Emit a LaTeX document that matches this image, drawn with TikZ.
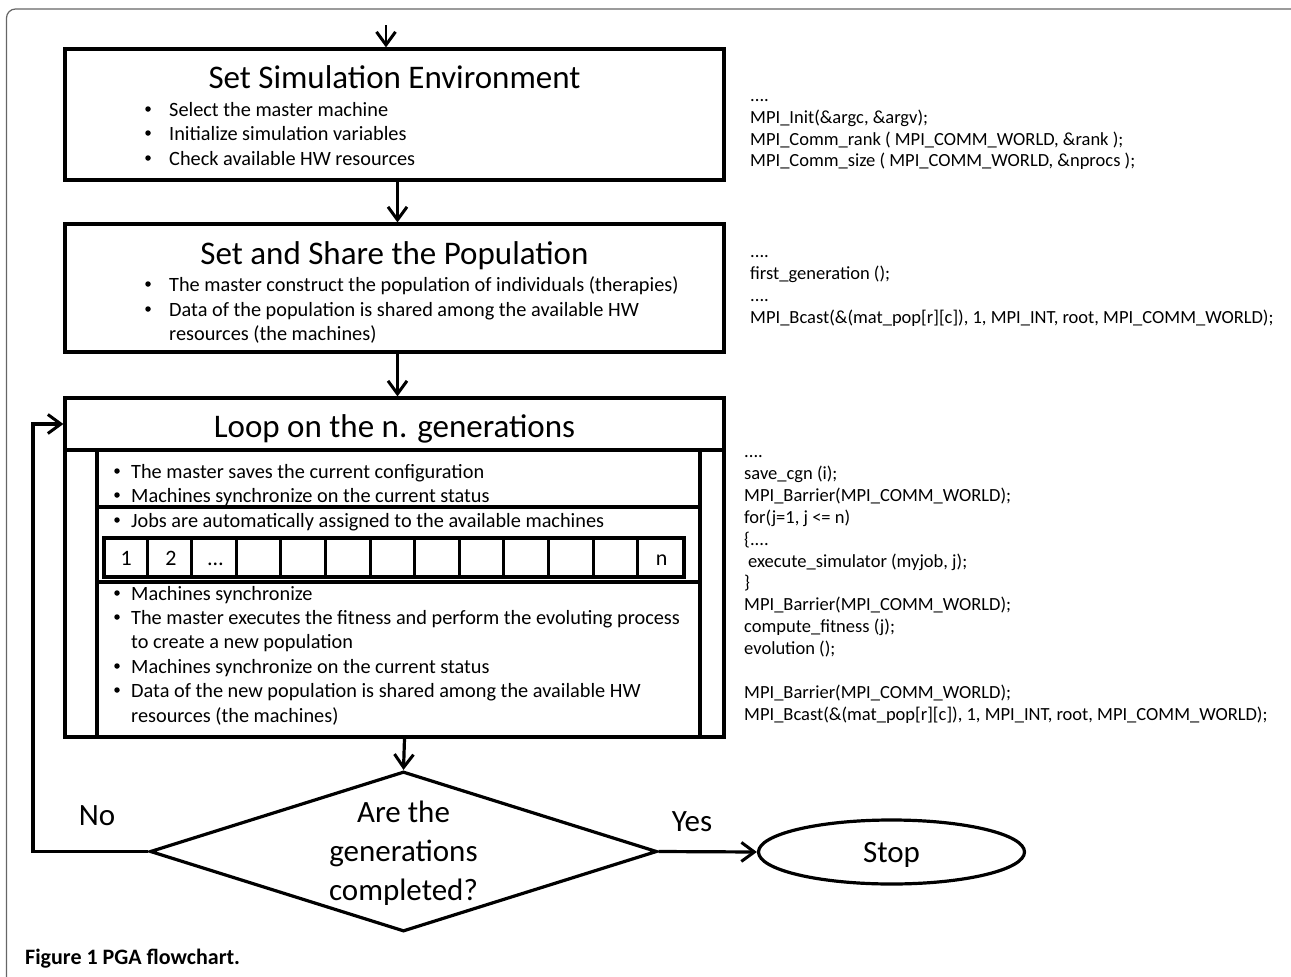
\documentclass[tikz,border=0pt]{standalone}
\usepackage{fontspec}
\setmainfont{Carlito}
\usetikzlibrary{arrows.meta,shapes.geometric}
\begin{document}
\begin{tikzpicture}[x=1pt,y=-1pt,
  box/.style={draw, line width=3.2pt, rectangle, inner sep=0pt},
  arr/.style={line width=3.2pt, -{Straight Barb[length=13pt,width=19pt,line width=3pt]}},
  conn/.style={line width=3.2pt},
  title/.style={anchor=base, inner sep=0pt, font=\fontsize{33}{38}\selectfont},
  bul/.style={anchor=base west, inner sep=0pt, font=\fontsize{20.3}{24}\selectfont},
  dot/.style={circle, fill, inner sep=0pt, minimum size=5.5pt},
  code/.style={anchor=base west, inner sep=0pt, font=\fontsize{18.5}{22}\selectfont},
  big/.style={inner sep=0pt, font=\fontsize{31}{36}\selectfont},
  cell/.style={anchor=base, inner sep=0pt, font=\fontsize{22}{26}\selectfont}]
\useasboundingbox (0,0) rectangle (1291,977);
% figure frame
\draw[black!60, line width=1.2pt, rounded corners=9pt] (6.5,995) -- (6.5,9) -- (1300,9);

% ---- box 1
\node[box, minimum width=659, minimum height=131] (env) at (394.5,114.5) {};
\coordinate (start) at (386,25);
\draw[arr, line width=2.4pt] (start) -- (start |- env.north);
\node[title] (envt) at (394.5,88) {Set Simulation Environment};
\node[dot] (d11) at (148,109) {};
\node[dot] (d12) at (148,133) {};
\node[dot] (d13) at (148,158) {};
\node[bul] (b11) at (169,116) {Select the master machine};
\node[bul] (b12) at (169,140) {Initialize simulation variables};
\node[bul] (b13) at (169,165) {Check available HW resources};

% ---- box 2
\node[box, minimum width=659, minimum height=128] (pop) at (394.5,288) {};
\draw[arr] ([xshift=3]env.south) -- ([xshift=3]pop.north);
\node[title] (popt) at (394.5,264) {Set and Share the Population};
\node[dot] (d21) at (148,284) {};
\node[dot] (d22) at (148,309) {};
\node[bul] (b21) at (169,291) {The master construct the population of individuals (therapies)};
\node[bul] (b22) at (169,316) {Data of the population is shared among the available HW};
\node[bul] (b23) at (169,340) {resources (the machines)};

% ---- loop box
\node[box, minimum width=659, minimum height=339] (loop) at (394.5,567.5) {};
\node[box, minimum width=659, minimum height=52] (looptitle) at (394.5,424) {};
\draw[arr] ([xshift=3]pop.south) -- ([xshift=3]looptitle.north);
\node[title] (loopt) at (394.5,437) {Loop on the n. generations};
\node[box, minimum width=603, minimum height=287] (inner) at (398.5,593.5) {};
\coordinate (d1) at (0,507);
\coordinate (d2) at (0,582);
\draw[conn] (inner.west |- d1) -- (inner.east |- d1);
\draw[conn] (inner.west |- d2) -- (inner.east |- d2);
\node[dot] (e1) at (117,471) {};
\node[dot] (e2) at (117,495) {};
\node[dot] (e3) at (117,520) {};
\node[dot] (e4) at (117,593) {};
\node[dot] (e5) at (117,617) {};
\node[dot] (e7) at (117,666) {};
\node[dot] (e8) at (117,690) {};
\node[bul] (l1) at (131,478) {The master saves the current configuration};
\node[bul] (l2) at (131,502) {Machines synchronize on the current status};
\node[bul] (l3) at (131,527) {Jobs are automatically assigned to the available machines};
\node[bul] (l4) at (131,600) {Machines synchronize};
\node[bul] (l5) at (131,624) {The master executes the fitness and perform the evoluting process};
\node[bul] (l6) at (131,648) {to create a new population};
\node[bul] (l7) at (131,673) {Machines synchronize on the current status};
\node[bul] (l8) at (131,697) {Data of the new population is shared among the available HW};
\node[bul] (l9) at (131,722) {resources (the machines)};

% jobs row
\node[box, minimum width=580, minimum height=39] (jobs) at (394,557.5) {};
\foreach \k in {1,...,12}
  \draw[line width=3pt] ([xshift=\k*44.615]jobs.north west) -- ([xshift=\k*44.615]jobs.south west);
\node[cell] (c1) at (126.3,565) {1};
\node[cell] (c2) at (170.9,565) {2};
\node[cell] (c3) at (215.5,565) {…};
\node[cell] (cn) at (661.7,565) {n};

% ---- decision
\node[draw, diamond, line width=3.2pt, minimum width=507, minimum height=160, inner sep=0pt] (dec) at (403.5,851.5) {};
\draw[arr] ([xshift=6]inner.south) -- (dec.north);
\node[big, anchor=base] (q1) at (403.5,822) {Are the};
\node[big, anchor=base] (q2) at (403.5,861) {generations};
\node[big, anchor=base] (q3) at (403.5,900) {completed?};

% ---- stop
\node[draw, ellipse, line width=3.2pt, minimum width=266, minimum height=64] (stop) at (891.5,852) {};
\node[big, anchor=base] (stopt) at (891.5,862) {Stop};
\draw[arr] (dec.east) -- (stop.west);
\node[big, anchor=base] (yes) at (692,831) {Yes};

% ---- no loop back
\coordinate (nocorner) at (33,0);
\draw[arr] (dec.west) -- (dec.west -| nocorner) -- (nocorner |- looptitle.west) -- (looptitle.west);
\node[big, anchor=base] (no) at (97,825) {No};

% ---- code text
\node[code] (k11) at (750,101.5) {....};
\node[code] (k12) at (750,123) {MPI\_Init(\&argc, \&argv);};
\node[code] (k13) at (750,145) {MPI\_Comm\_rank ( MPI\_COMM\_WORLD, \&rank );};
\node[code] (k14) at (750,166) {MPI\_Comm\_size ( MPI\_COMM\_WORLD, \&nprocs );};

\node[code] (k21) at (750,257) {....};
\node[code] (k22) at (750,279) {first\_generation ();};
\node[code] (k23) at (750,301) {....};
\node[code] (k24) at (750,323) {MPI\_Bcast(\&(mat\_pop[r][c]), 1, MPI\_INT, root, MPI\_COMM\_WORLD);};

\node[code] (k31) at (744,457) {....};
\node[code] (k32) at (744,479) {save\_cgn (i);};
\node[code] (k33) at (744,501) {MPI\_Barrier(MPI\_COMM\_WORLD);};
\node[code] (k34) at (744,523) {for(j=1, j <= n)};
\node[code] (k35) at (744,545) {\{....};
\node[code] (k36) at (748,567) {execute\_simulator (myjob, j);};
\node[code] (k37) at (744,588) {\}};
\node[code] (k38) at (744,610) {MPI\_Barrier(MPI\_COMM\_WORLD);};
\node[code] (k39) at (744,632) {compute\_fitness (j);};
\node[code] (k310) at (744,654) {evolution ();};
\node[code] (k311) at (744,698) {MPI\_Barrier(MPI\_COMM\_WORLD);};
\node[code] (k312) at (744,720) {MPI\_Bcast(\&(mat\_pop[r][c]), 1, MPI\_INT, root, MPI\_COMM\_WORLD);};

% ---- caption
\node[anchor=base west, inner sep=0pt, font=\bfseries\fontsize{22}{26}\selectfont] (cap) at (25,964) {Figure 1 PGA flowchart.};
\end{tikzpicture}
\end{document}
